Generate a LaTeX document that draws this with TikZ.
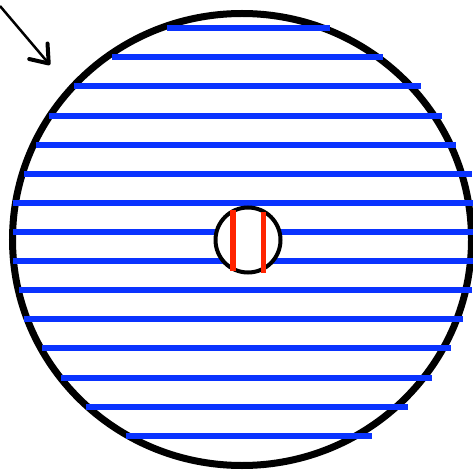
\documentclass[tikz,border=0pt]{standalone}
\usetikzlibrary{arrows.meta}
\definecolor{ink}{HTML}{000000}
\definecolor{blue}{HTML}{0A33FF}
\definecolor{red}{HTML}{FF2400}

\begin{document}
\begin{tikzpicture}[x=1bp,y=-1bp,>=Latex]
\tikzset{rim/.style={draw=ink,line width=7bp},
  stripe/.style={blue,line width=5.5bp},
  hole/.style={draw=ink,fill=white,line width=4bp},
  bar/.style={red,line width=5.5bp}}

\useasboundingbox (0,0) rectangle (473,470);
\coordinate (O) at (242,239.5);
\coordinate (C) at (248,240);
\coordinate (tail) at (0,6);
\coordinate (tip) at (50,65);

\draw[rim] (O) ellipse [x radius=229.5,y radius=226];
\foreach \y/\xa/\xb in {28/167/330,57/112/383,86/74/421,116/49/442,145/36/456,
  174/24/472,203/13/476,232/13/476,261/13/476,290/19/472,319/24/463,
  348/42/451,378/61/432,407/86/408,436/126/372}{
  \draw[stripe] (\xa,\y)--(\xb,\y);
}
\draw[hole] (C) circle (32.5);
\draw[bar] (233,210)--(233,271);
\draw[bar] (263.5,212)--(263.5,273);

\draw[ink,line width=2.5bp,-{Straight Barb[length=16bp,width=24bp,line width=4bp,round]}] (tail)--(tip);
\end{tikzpicture}
\end{document}
